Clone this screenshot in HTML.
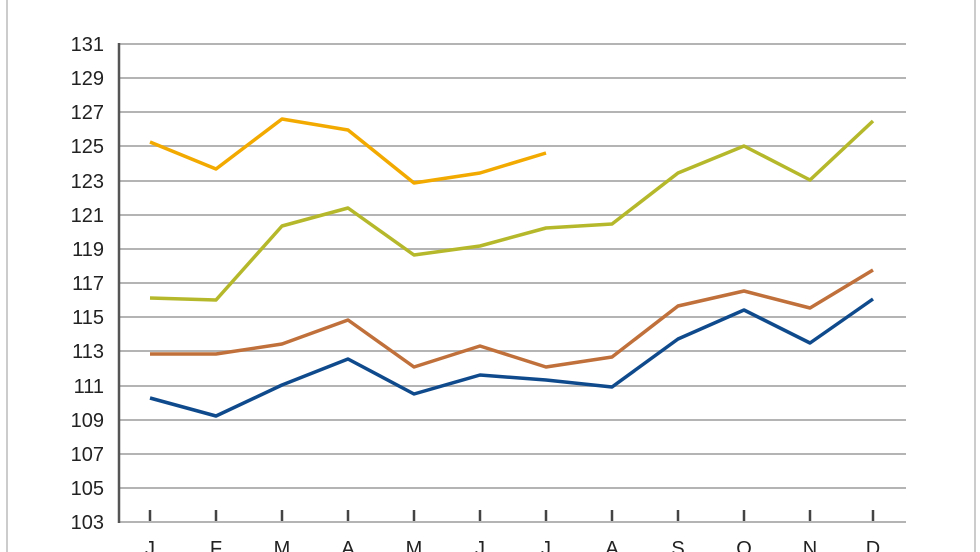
<!DOCTYPE html>
<html><head><style>body{margin:0;background:#fff}</style></head><body>
<svg width="980" height="552" xmlns="http://www.w3.org/2000/svg" style="display:block;font-family:'Liberation Sans',sans-serif">
<rect width="980" height="552" fill="#fff"/>
<line x1="7" y1="0" x2="7" y2="552" stroke="#ccc" stroke-width="2"/>
<line x1="975" y1="0" x2="975" y2="552" stroke="#ccc" stroke-width="2"/>
<g stroke="#b4b4b4" stroke-width="2">
<line x1="120" x2="906" y1="44" y2="44"/><line x1="120" x2="906" y1="78" y2="78"/>
<line x1="120" x2="906" y1="112" y2="112"/><line x1="120" x2="906" y1="146" y2="146"/>
<line x1="120" x2="906" y1="181" y2="181"/><line x1="120" x2="906" y1="215" y2="215"/>
<line x1="120" x2="906" y1="249" y2="249"/><line x1="120" x2="906" y1="283" y2="283"/>
<line x1="120" x2="906" y1="317" y2="317"/><line x1="120" x2="906" y1="351" y2="351"/>
<line x1="120" x2="906" y1="386" y2="386"/><line x1="120" x2="906" y1="420" y2="420"/>
<line x1="120" x2="906" y1="454" y2="454"/><line x1="120" x2="906" y1="488" y2="488"/>
<line x1="120" x2="906" y1="522" y2="522"/>
</g>
<line x1="119" y1="43" x2="119" y2="523" stroke="#555" stroke-width="2.5"/>
<g stroke="#444" stroke-width="2.5">
<line x1="150" x2="150" y1="510" y2="521"/><line x1="216" x2="216" y1="510" y2="521"/><line x1="282" x2="282" y1="510" y2="521"/><line x1="348" x2="348" y1="510" y2="521"/><line x1="414" x2="414" y1="510" y2="521"/><line x1="480" x2="480" y1="510" y2="521"/><line x1="546" x2="546" y1="510" y2="521"/><line x1="612" x2="612" y1="510" y2="521"/><line x1="678" x2="678" y1="510" y2="521"/><line x1="744" x2="744" y1="510" y2="521"/><line x1="810" x2="810" y1="510" y2="521"/><line x1="873" x2="873" y1="510" y2="521"/>
</g>
<g font-size="20" fill="#222" text-anchor="end">
<text x="104" y="51">131</text><text x="104" y="85">129</text><text x="104" y="119">127</text><text x="104" y="153">125</text><text x="104" y="188">123</text><text x="104" y="222">121</text><text x="104" y="256">119</text><text x="104" y="290">117</text><text x="104" y="324">115</text><text x="104" y="358">113</text><text x="104" y="393">111</text><text x="104" y="427">109</text><text x="104" y="461">107</text><text x="104" y="495">105</text><text x="104" y="529">103</text>
</g>
<g font-size="20" fill="#222" text-anchor="middle">
<text x="150" y="555">J</text><text x="216" y="555">F</text><text x="282" y="555">M</text><text x="348" y="555">A</text><text x="414" y="555">M</text><text x="480" y="555">J</text><text x="546" y="555">J</text><text x="612" y="555">A</text><text x="678" y="555">S</text><text x="744" y="555">O</text><text x="810" y="555">N</text><text x="873" y="555">D</text>
</g>
<g fill="none" stroke-width="3.5" stroke-linejoin="round">
<polyline stroke="#f2a900" points="150,142 216,169 282,119 348,130 414,183 480,173 546,153"/>
<polyline stroke="#b5b82a" points="150,298 216,300 282,226 348,208 414,255 480,246 546,228 612,224 678,173 744,146 810,180 873,121"/>
<polyline stroke="#c0703a" points="150,354 216,354 282,344 348,320 414,367 480,346 546,367 612,357 678,306 744,291 810,308 873,270"/>
<polyline stroke="#0f4a8c" points="150,398 216,416 282,385 348,359 414,394 480,375 546,380 612,387 678,339 744,310 810,343 873,299"/>
</g>
</svg>
</body></html>
